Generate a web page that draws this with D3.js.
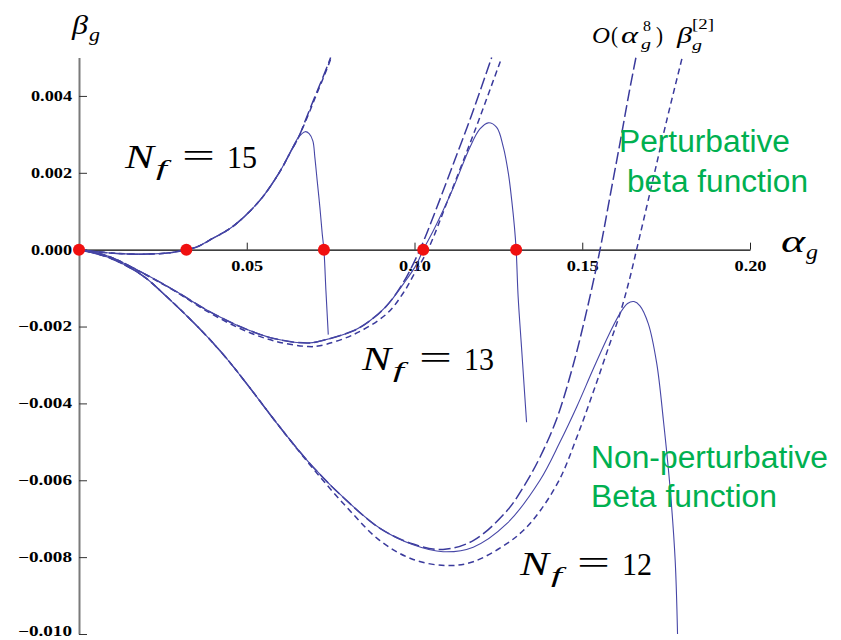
<!DOCTYPE html>
<html>
<head>
<meta charset="utf-8">
<script src="https://cdn.jsdelivr.net/npm/d3@7"></script>
<style>
  body { margin: 0; background: #ffffff; }
  svg { display: block; }
</style>
</head>
<body>
<svg id="chart" width="841" height="640"></svg>
<script>
// ---- data: [alpha_g, beta_g] ----
// Non-perturbative beta functions (solid)
const nf15Solid = [[0,0],[0.0083,-0.00008],[0.0140,-0.00011],[0.0202,-0.000115],[0.0271,-0.00008],[0.0320,0],[0.0351,0.00007],[0.0400,0.0003],[0.0450,0.00055],[0.0500,0.00092],[0.0550,0.0014],[0.0600,0.00205],[0.0629,0.00252],[0.0654,0.00292],[0.0674,0.00307],[0.0686,0.00302],[0.0697,0.00283],[0.0703,0.0024],[0.0710,0.00179],[0.0718,0.0011],[0.0725,0.00041],[0.0730,0],[0.0736,-0.00107],[0.0743,-0.00221]];
const nf13Solid = [[0,0],[0.0087,-0.00017],[0.0187,-0.00059],[0.0286,-0.00107],[0.0385,-0.00159],[0.0485,-0.00202],[0.0584,-0.00232],[0.0683,-0.00243],[0.0718,-0.00238],[0.0818,-0.00211],[0.0867,-0.00185],[0.0917,-0.00146],[0.0967,-0.00089],[0.1007,-0.00037],[0.1026,0],[0.1056,0.00049],[0.1116,0.00162],[0.1165,0.00266],[0.1195,0.00314],[0.1220,0.0033],[0.1245,0.00318],[0.1265,0.00266],[0.1280,0.00197],[0.1290,0.00127],[0.1298,0.00058],[0.1303,0],[0.1309,-0.00124],[0.1319,-0.00254],[0.1329,-0.00384],[0.1334,-0.00449]];
const nf12Solid = [[0,0],[0.0087,-0.0002],[0.0187,-0.00066],[0.0261,-0.00122],[0.0361,-0.00207],[0.0435,-0.00278],[0.0500,-0.00349],[0.0599,-0.00462],[0.0698,-0.00566],[0.0798,-0.00653],[0.0897,-0.00725],[0.0996,-0.00768],[0.1085,-0.00786],[0.1175,-0.00774],[0.1275,-0.00713],[0.1374,-0.0060],[0.1434,-0.0050],[0.1483,-0.0041],[0.1533,-0.0031],[0.1580,-0.0022],[0.1613,-0.00165],[0.1635,-0.0014],[0.1654,-0.00135],[0.1672,-0.00146],[0.1697,-0.00193],[0.1722,-0.00296],[0.1742,-0.00445],[0.1762,-0.00622],[0.1777,-0.00809],[0.1784,-0.0100]];

// Perturbative O(alpha^8) series (long dashes)
const nf15Long = [[0,0],[0.0083,-0.00008],[0.0140,-0.00011],[0.0202,-0.000115],[0.0271,-0.00008],[0.0320,0],[0.0351,0.00007],[0.0400,0.0003],[0.0450,0.00055],[0.0500,0.00092],[0.0550,0.0014],[0.0600,0.00205],[0.0629,0.00252],[0.0654,0.00292],[0.0680,0.00348],[0.0705,0.00402],[0.0730,0.00455],[0.0750,0.005]];
const nf13Long = [[0,0],[0.0087,-0.00017],[0.0187,-0.00059],[0.0286,-0.00107],[0.0385,-0.00159],[0.0485,-0.00202],[0.0584,-0.00232],[0.0683,-0.00243],[0.0718,-0.00238],[0.0818,-0.00211],[0.0867,-0.00185],[0.0917,-0.00146],[0.0967,-0.00085],[0.1016,0],[0.1060,0.00095],[0.1110,0.0021],[0.1170,0.0035],[0.1230,0.005]];
const nf12Long = [[0,0],[0.0087,-0.0002],[0.0187,-0.00066],[0.0261,-0.00122],[0.0361,-0.00207],[0.0435,-0.00278],[0.0500,-0.00349],[0.0599,-0.00462],[0.0698,-0.00566],[0.0798,-0.00653],[0.0897,-0.00725],[0.0996,-0.00766],[0.1085,-0.0078],[0.1175,-0.00757],[0.1275,-0.0068],[0.1330,-0.0061],[0.1374,-0.0054],[0.1424,-0.0044],[0.1473,-0.0030],[0.1513,-0.0016],[0.1553,0],[0.1583,0.0014],[0.1613,0.0028],[0.1640,0.0041],[0.1660,0.005]];

// Two-loop beta^[2] (short dashes)
const nf15Short = [[0,0],[0.0083,-0.00008],[0.0140,-0.00011],[0.0202,-0.000115],[0.0271,-0.00008],[0.0320,0],[0.0351,0.00007],[0.0400,0.0003],[0.0450,0.00055],[0.0500,0.00092],[0.0550,0.0014],[0.0600,0.00205],[0.0629,0.00252],[0.0654,0.00292],[0.0682,0.00348],[0.0707,0.00402],[0.0732,0.00455],[0.0752,0.005]];
const nf13Short = [[0,0],[0.0087,-0.00017],[0.0187,-0.0006],[0.0286,-0.00108],[0.0385,-0.00162],[0.0485,-0.00207],[0.0584,-0.00238],[0.0683,-0.00252],[0.0718,-0.0025],[0.0818,-0.00221],[0.0917,-0.00167],[0.0967,-0.00112],[0.1000,-0.00062],[0.1040,0],[0.1100,0.0013],[0.1180,0.0031],[0.1260,0.005]];
const nf12Short = [[0,0],[0.0087,-0.0002],[0.0187,-0.00066],[0.0261,-0.00122],[0.0361,-0.00207],[0.0435,-0.00278],[0.0500,-0.00349],[0.0599,-0.00462],[0.0698,-0.0057],[0.0798,-0.0067],[0.0897,-0.00757],[0.0996,-0.00806],[0.1096,-0.00822],[0.1175,-0.00812],[0.1275,-0.00765],[0.1325,-0.0073],[0.1374,-0.0068],[0.1434,-0.00595],[0.1483,-0.0049],[0.1533,-0.0037],[0.1580,-0.0025],[0.1613,-0.00165],[0.1640,-0.0008],[0.1662,0],[0.1705,0.0016],[0.1750,0.0033],[0.1798,0.005]];

// Zeros of the non-perturbative curves (red markers)
const fixedPoints = [0, 0.0320, 0.0730, 0.1026, 0.1303];

// Axis ticks
const alphaMajor = [0.05, 0.10, 0.15, 0.20];
const alphaMinor = d3.range(1, 21).map(i => i / 100).filter(v => !alphaMajor.some(m => Math.abs(m - v) < 1e-9));
const betaMajor = [-0.010, -0.008, -0.006, -0.004, -0.002, 0.000, 0.002, 0.004];
const betaMinor = d3.range(-20, 11).map(i => i * 0.0005).filter(v => !betaMajor.some(m => Math.abs(m - v) < 1e-9));

// ---- layout ----
const svg = d3.select("#chart");
const x = d3.scaleLinear().domain([0, 0.2]).range([79, 750]);
const y = d3.scaleLinear().domain([-0.010, 0.005]).range([634, 57.5]);

const SERIF = "'Liberation Serif', 'Times New Roman', serif";
const SANS = "'Liberation Sans', Arial, sans-serif";
const CURVE = "#4646a6";
const DASH = "#3a3a9c";
const GREEN = "#00b050";

// width of a bold tick label, per character
function labelWidth(s) {
  let w = 0;
  for (const c of s) w += c === "." ? 5 : (c === "\u2212" ? 13 : 9);
  return w;
}

// ---- axes ----
const yAxisG = svg.append("g").attr("transform", `translate(${x(0)},0)`);
yAxisG.call(d3.axisLeft(y).tickValues(betaMinor).tickSizeInner(-4).tickSizeOuter(0).tickFormat(""))
  .call(g => g.select(".domain").remove())
  .call(g => g.selectAll("line").attr("stroke", "#333"));
yAxisG.call(d3.axisLeft(y).tickValues(betaMajor).tickSizeInner(-8).tickSizeOuter(0).tickPadding(7)
    .tickFormat(d3.format(".3f")))
  .call(g => g.select(".domain").attr("stroke", "#7a7a7a").attr("stroke-width", 2))
  .call(g => g.selectAll("line").attr("stroke", "#333"))
  .call(g => g.selectAll("text")
    .attr("font-family", SERIF).attr("font-weight", "bold").attr("font-size", 14.5)
    .attr("fill", "#000")
    // the lowest label sits against the bottom edge, so lift it slightly
    .attr("dy", d => d <= -0.0099 ? "0.08em" : "0.3em")
    .attr("lengthAdjust", "spacingAndGlyphs")
    .attr("textLength", function () { return labelWidth(this.textContent); }));

const xAxisG = svg.append("g").attr("transform", `translate(0,${y(0)})`);
xAxisG.call(d3.axisBottom(x).tickValues(alphaMinor).tickSizeInner(-4).tickSizeOuter(0).tickFormat(""))
  .call(g => g.select(".domain").remove())
  .call(g => g.selectAll("line").attr("stroke", "#222"));
xAxisG.call(d3.axisBottom(x).tickValues(alphaMajor).tickSizeInner(-7).tickSizeOuter(0).tickPadding(11)
    .tickFormat(d3.format(".2f")))
  .call(g => g.select(".domain").attr("stroke", "#000").attr("stroke-width", 1.4))
  .call(g => g.selectAll("line").attr("stroke", "#222"))
  .call(g => g.selectAll("text")
    .attr("font-family", SERIF).attr("font-weight", "bold").attr("font-size", 14.5)
    .attr("fill", "#000")
    .attr("lengthAdjust", "spacingAndGlyphs")
    .attr("textLength", function () { return labelWidth(this.textContent); }));

// ---- curves ----
svg.append("defs").append("clipPath").attr("id", "plotClip")
  .append("rect").attr("x", x(0)).attr("y", y(0.005) - 1).attr("width", 841 - x(0)).attr("height", y(-0.010) - y(0.005) + 2);

const line = d3.line().x(d => x(d[0])).y(d => y(d[1])).curve(d3.curveCatmullRom.alpha(0.5));
const plot = svg.append("g").attr("clip-path", "url(#plotClip)");

const curves = [
  { data: nf15Short, kind: "short" }, { data: nf13Short, kind: "short" }, { data: nf12Short, kind: "short" },
  { data: nf15Long, kind: "long" }, { data: nf13Long, kind: "long" }, { data: nf12Long, kind: "long" },
  { data: nf15Solid, kind: "solid" }, { data: nf13Solid, kind: "solid" }, { data: nf12Solid, kind: "solid" }
];
plot.selectAll("path.curve").data(curves).join("path")
  .attr("class", "curve")
  .attr("d", d => line(d.data))
  .attr("fill", "none")
  .attr("stroke", d => d.kind === "solid" ? CURVE : DASH)
  .attr("stroke-width", d => d.kind === "solid" ? 1.1 : 1.5)
  .attr("stroke-dasharray", d => d.kind === "long" ? "12,4" : (d.kind === "short" ? "6,4" : null));

// ---- fixed points ----
svg.selectAll("circle.fp").data(fixedPoints).join("circle")
  .attr("class", "fp")
  .attr("cx", d => x(d)).attr("cy", y(0)).attr("r", 6)
  .attr("fill", "#f01010");

// ---- text ----
function txt(s, px, py, o) {
  const t = svg.append("text").attr("x", px).attr("y", py).text(s)
    .attr("font-family", o.family || SERIF)
    .attr("font-size", o.size)
    .attr("font-style", o.italic ? "italic" : "normal")
    .attr("fill", o.fill || "#000");
  if (o.len) t.attr("textLength", o.len).attr("lengthAdjust", "spacingAndGlyphs");
  return t;
}

// axis titles
txt("\u03B2", 72, 34, { size: 27, italic: true, len: 16 });
txt("g", 89, 41, { size: 18, italic: true, len: 11 });
txt("\u03B1", 781, 252, { size: 32, italic: true, len: 24 });
txt("g", 806, 259, { size: 20, italic: true, len: 12 });

// flavour labels
function nfLabel(n, px, py) {
  txt("N", px, py, { size: 33, italic: true, len: 29 });
  txt("f", px + 31, py + 7, { size: 22, italic: true, len: 11 });
  txt("=", px + 57, py - 1, { size: 33, len: 33 });
  txt(String(n), px + 102, py, { size: 32, len: 30 });
}
nfLabel(15, 125, 168);
nfLabel(13, 362, 370);
nfLabel(12, 520, 575);

// series key at the top
txt("O", 592, 43, { size: 24, italic: true, len: 18 });
txt("(", 611, 43, { size: 23, len: 7 });
txt("\u03B1", 621, 43, { size: 24, italic: true, len: 17 });
txt("8", 643, 31, { size: 14, len: 8 });
txt("g", 641, 49, { size: 15, italic: true, len: 10 });
txt(")", 656, 43, { size: 23, len: 7 });
txt("\u03B2", 677, 43, { size: 24, italic: true, len: 15 });
txt("[2]", 692, 29, { size: 14, len: 22 });
txt("g", 692, 50, { size: 15, italic: true, len: 10 });

// annotations
txt("Perturbative", 619, 152, { size: 31, family: SANS, fill: GREEN, len: 171 });
txt("beta function", 627, 192, { size: 31, family: SANS, fill: GREEN, len: 181 });
txt("Non-perturbative", 591, 468, { size: 31, family: SANS, fill: GREEN, len: 237 });
txt("Beta function", 591, 507, { size: 31, family: SANS, fill: GREEN, len: 186 });
</script>
</body>
</html>
